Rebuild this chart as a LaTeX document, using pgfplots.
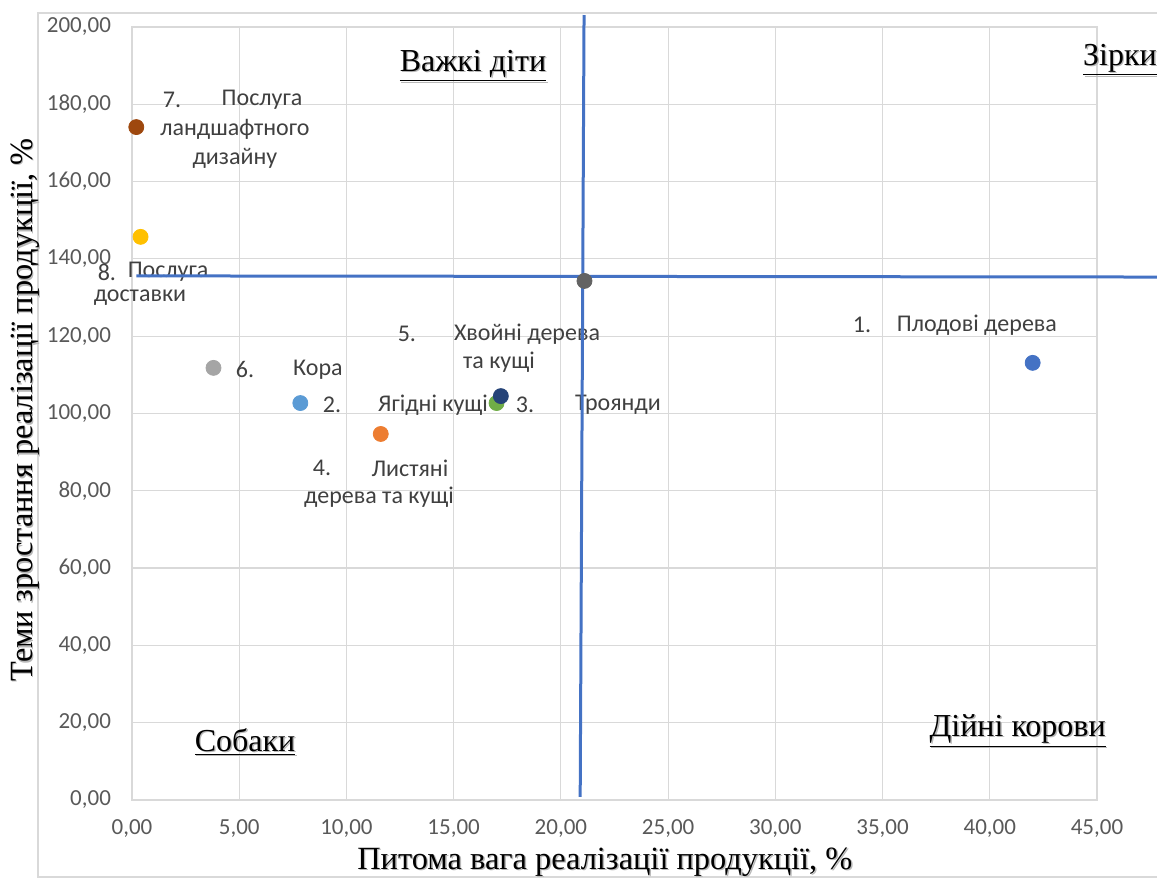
\documentclass[border=0pt]{standalone}
\usepackage{pgfplots}
\pgfplotsset{compat=1.18}
\usepackage{fontspec}
\setmainfont{Liberation Serif}
\newfontfamily\calibri{Carlito}

\definecolor{gridc}{HTML}{D9D9D9}
\definecolor{tickc}{HTML}{595959}
\definecolor{labc}{HTML}{404040}
\definecolor{quad}{HTML}{4472C4}
\definecolor{c1}{HTML}{4472C4}
\definecolor{c2}{HTML}{5B9BD5}
\definecolor{c3}{HTML}{70AD47}
\definecolor{c4}{HTML}{ED7D31}
\definecolor{c5}{HTML}{264478}
\definecolor{c6}{HTML}{A5A5A5}
\definecolor{c7}{HTML}{9E480E}
\definecolor{c8}{HTML}{FFC000}
\definecolor{c9}{HTML}{636363}

% text with a soft drop shadow
\newcommand{\shtext}[3]{%
  \node[text=black!28, font=#2] at ([shift={(0.7pt,-0.7pt)}]#1) {#3};
  \node[text=black, font=#2] at (#1) {#3};}

\newcommand{\lab}[2]{\node[text=labc, font=\calibri\fontsize{12}{14}\selectfont] at (#1) {#2};}

\begin{document}
\begin{tikzpicture}
\useasboundingbox (0pt,0pt) rectangle (578.5pt,441pt);
\draw[gridc, line width=0.6pt] (19pt,434.5pt) rectangle (600pt,2.5pt);
\begin{axis}[
  at={(66pt,41pt)}, anchor=origin,
  scale only axis, width=482.5pt, height=386.5pt,
  xmin=0, xmax=45, ymin=0, ymax=200,
  xtick distance=5, ytick distance=20,
  grid=major, grid style={gridc, line width=0.6pt},
  axis line style={gridc, line width=0.6pt},
  tick style={draw=none},
  ticklabel style={font=\calibri\fontsize{11.5}{13}\selectfont, text=tickc},
  xticklabel style={yshift=-6.5pt},
  yticklabel style={xshift=-7pt},
  /pgf/number format/fixed,
  /pgf/number format/fixed zerofill,
  /pgf/number format/precision=2,
  /pgf/number format/use comma,
  /pgf/number format/assume math mode=true,
  clip=false,
]
% products: share of sales (%) vs growth rate (%)
\addplot[only marks, mark=*, mark size=3.75pt, mark options={draw=c1, fill=c1}] coordinates {(42.0,113.1)};
\addplot[only marks, mark=*, mark size=3.75pt, mark options={draw=c2, fill=c2}] coordinates {(7.85,102.7)};
\addplot[only marks, mark=*, mark size=3.75pt, mark options={draw=c3, fill=c3}] coordinates {(17.0,102.7)};
\addplot[only marks, mark=*, mark size=3.75pt, mark options={draw=c4, fill=c4}] coordinates {(11.6,94.7)};
\addplot[only marks, mark=*, mark size=3.75pt, mark options={draw=c5, fill=c5}] coordinates {(17.2,104.5)};
\addplot[only marks, mark=*, mark size=3.75pt, mark options={draw=c6, fill=c6}] coordinates {(3.8,111.8)};
\addplot[only marks, mark=*, mark size=3.75pt, mark options={draw=c7, fill=c7}] coordinates {(0.2,174.1)};
\addplot[only marks, mark=*, mark size=3.75pt, mark options={draw=c8, fill=c8}] coordinates {(0.4,145.7)};
\addplot[only marks, mark=*, mark size=3.75pt, mark options={draw=c9, fill=c9}] coordinates {(21.1,134.3)};

% data labels
\lab{axis cs:1.87,181.1}{7.}
\lab{axis cs:6.06,181.1}{Послуга}
\lab{axis cs:4.80,173.4}{ландшафтного}
\lab{axis cs:4.80,166.1}{дизайну}
\lab{axis cs:-1.17,136.6}{8.}
\lab{axis cs:1.68,136.6}{Послуга}
\lab{axis cs:0.37,129.9}{доставки}
\lab{axis cs:5.27,111.3}{6.}
\lab{axis cs:8.67,111.3}{Кора}
\lab{axis cs:9.33,102.2}{2.}
\lab{axis cs:14.04,102.2}{Ягідні кущі}
\lab{axis cs:8.86,85.9}{4.}
\lab{axis cs:12.96,85.9}{Листяні}
\lab{axis cs:11.52,78.4}{дерева та кущі}
\lab{axis cs:12.82,120.6}{5.}
\lab{axis cs:18.42,120.6}{Хвойні дерева}
\lab{axis cs:17.11,113.3}{та кущі}
\lab{axis cs:18.33,102.2}{3.}
\lab{axis cs:22.66,102.2}{Троянди}
\lab{axis cs:34.04,122.9}{1.}
\lab{axis cs:39.40,122.9}{Плодові дерева}

% quadrant dividers
\addplot[quad, line width=1.5pt] coordinates {(0.2,135.6) (48.5,135.3)};
\addplot[quad, line width=1.5pt] coordinates {(21.08,203.1) (20.9,0.8)};

% quadrant names
\shtext{axis cs:15.9,189.9}{\fontsize{16}{18}\selectfont}{\underline{Важкі діти}}
\shtext{axis cs:46.07,191.5}{\fontsize{16}{18}\selectfont}{\underline{Зірки}}
\shtext{axis cs:5.27,15.0}{\fontsize{16}{18}\selectfont}{\underline{Собаки}}
\shtext{axis cs:41.3,17.9}{\fontsize{16}{18}\selectfont}{\underline{Дійні корови}}

% axis titles
\shtext{axis description cs:0.490,-0.080}{\fontsize{16.2}{18}\selectfont}{Питома вага реалізації продукції, \%}
\node[text=black!28, rotate=90, font=\fontsize{16.2}{18}\selectfont] at ([shift={(0.7pt,-0.7pt)}]axis description cs:-0.111,0.5045) {Теми зростання реалізації продукції, \%};
\node[text=black, rotate=90, font=\fontsize{16.2}{18}\selectfont] at (axis description cs:-0.111,0.5045) {Теми зростання реалізації продукції, \%};
\end{axis}
\end{tikzpicture}
\end{document}
